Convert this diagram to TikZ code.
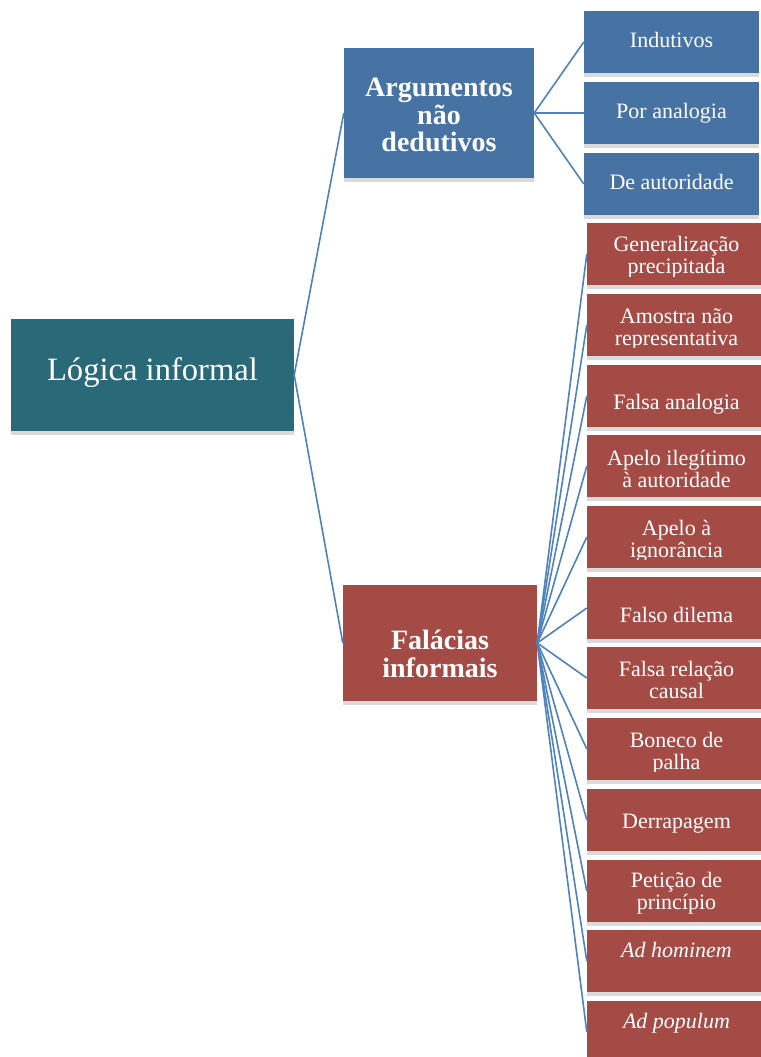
\documentclass[tikz,border=0pt]{standalone}
\usepackage{fontspec}
\setmainfont{Liberation Serif}
\usetikzlibrary{shadows}

\definecolor{rootteal}{RGB}{42,106,120}
\definecolor{argblue}{RGB}{70,114,164}
\definecolor{falred}{RGB}{165,75,69}
\definecolor{linkblue}{RGB}{79,129,189}
\definecolor{shadegray}{RGB}{218,218,218}

\tikzset{
  box/.style={inner sep=0pt, text=white, align=center,
    drop shadow={shadow xshift=0pt, shadow yshift=-4pt, fill=shadegray, opacity=1}},
  rootbox/.style={box, fill=rootteal, minimum width=283pt, minimum height=112pt,
    font=\fontsize{32.6}{34}\selectfont, text height=22pt, text depth=12pt},
  mainbox/.style={box, minimum height=#1, font=\bfseries\fontsize{28}{27.5}\selectfont},
  argleaf/.style={box, fill=argblue, minimum width=175pt, minimum height=62pt,
    font=\fontsize{22}{22}\selectfont, text height=16pt, text depth=5pt},
  falleaf/.style 2 args={box, fill=falred, minimum width=179pt, minimum height=62pt,
    path picture={
      \clip ([yshift=9pt]path picture bounding box.south west) rectangle (path picture bounding box.north east);
      \node[text=white, align=center, inner sep=0pt, anchor=base, font=\fontsize{22}{22}\selectfont]
        at ([yshift=-#1]path picture bounding box.north) {#2};}},
  link/.style={draw=linkblue, line width=1.6pt}
}

\begin{document}
\begin{tikzpicture}[x=1pt, y=-1pt]
    \useasboundingbox (0,0) rectangle (760,1057);
    % Nodes:
    \node[rootbox] (root) at (152.5,375) {Lógica informal};
    \node[mainbox=130pt, fill=argblue, minimum width=190pt, text height=83pt, text depth=6pt]
      (arg) at (439,113) {Argumentos\\não\\dedutivos};
    \node[mainbox=116pt, fill=falred, minimum width=194pt, text height=74pt, text depth=6pt]
      (fal) at (440,643) {Falácias\\informais};
    % Argumentos:
    \node[argleaf] (ind) at (671.5,42) {Indutivos};
    \node[argleaf] (ana) at (671.5,113) {Por analogia};
    \node[argleaf] (aut) at (671.5,184) {De autoridade};
    % Falacias (offset = last baseline below top):
    \node[falleaf={50pt}{Generalização\\precipitada}] (f1) at (676.5,254) {};
    \node[falleaf={51pt}{Amostra não\\representativa}] (f2) at (676.5,325) {};
    \node[falleaf={44pt}{Falsa analogia}] (f3) at (676.5,396) {};
    \node[falleaf={52pt}{Apelo ilegítimo\\à autoridade}] (f4) at (676.5,466) {};
    \node[falleaf={51pt}{Apelo à\\ignorância}] (f5) at (676.5,537) {};
    \node[falleaf={45pt}{Falso dilema}] (f6) at (676.5,608) {};
    \node[falleaf={51pt}{Falsa relação\\causal}] (f7) at (676.5,678) {};
    \node[falleaf={51pt}{Boneco de\\palha}] (f8) at (676.5,749) {};
    \node[falleaf={39pt}{Derrapagem}] (f9) at (676.5,820) {};
    \node[falleaf={49pt}{Petição de\\princípio}] (f10) at (676.5,891) {};
    \node[falleaf={27pt}{\itshape Ad hominem}] (f11) at (676.5,961) {};
    \node[falleaf={27pt}{\itshape Ad populum}] (f12) at (676.5,1032) {};
    % Connectors:
    \draw[link] (root.east) -- (arg.west);
    \draw[link] (root.east) -- (fal.west);
    \foreach \leaf in {ind,ana,aut}
      \draw[link] (arg.east) -- (\leaf.west);
    \foreach \k in {1,...,12}
      \draw[link] (fal.east) -- (f\k.west);
  \end{tikzpicture}
\end{document}
